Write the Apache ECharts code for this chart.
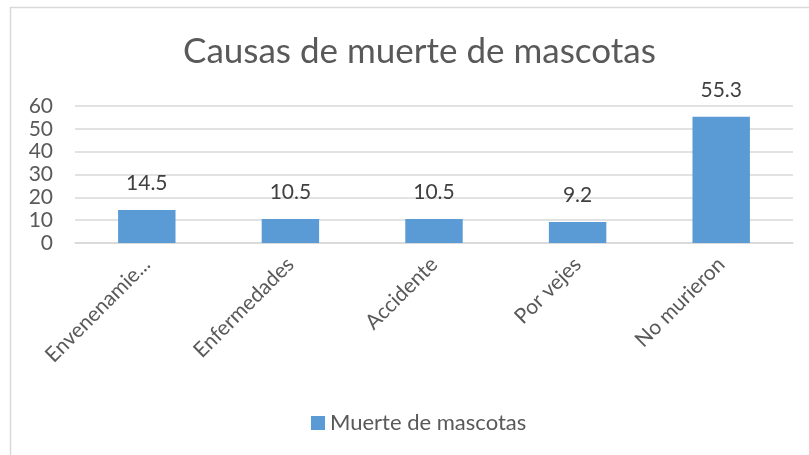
<!DOCTYPE html>
<html>
<head>
<meta charset="utf-8">
<script src="https://cdn.jsdelivr.net/npm/echarts@6/dist/echarts.min.js"></script>
<style>
  html, body { margin: 0; padding: 0; background: #fff; }
  #chart { width: 809px; height: 455px; }
</style>
</head>
<body>
<div id="chart"></div>
<script>
// Causas de muerte de mascotas (porcentaje)
const categories = ['Envenenamiento', 'Enfermedades', 'Accidente', 'Por vejes', 'No murieron'];
const values = [14.5, 10.5, 10.5, 9.2, 55.3];
const seriesName = 'Muerte de mascotas';
const yTicks = { min: 0, max: 60, interval: 10 };

const FONT = 'Lato';
const chart = echarts.init(document.getElementById('chart'), null, { renderer: 'canvas' });

chart.setOption({
  backgroundColor: '#ffffff',
  animation: false,
  textStyle: { fontFamily: FONT },
  title: {
    text: 'Causas de muerte de mascotas',
    left: 178,
    top: 29,
    textStyle: { fontFamily: FONT, fontSize: 35, fontWeight: 'normal', color: '#595959' }
  },
  graphic: [{
    type: 'rect',
    shape: { x: 10.5, y: 7.5, width: 820, height: 460 },
    style: { fill: 'none', stroke: '#D9D9D9', lineWidth: 1.5 },
    silent: true
  }],
  grid: { left: 75, right: 16, top: 106, bottom: 212, containLabel: false },
  legend: {
    data: [seriesName],
    left: 306,
    top: 407,
    icon: 'rect',
    itemWidth: 14,
    itemHeight: 14,
    itemGap: 8,
    textStyle: { fontFamily: FONT, fontSize: 22, color: '#595959' }
  },
  xAxis: {
    type: 'category',
    data: categories,
    axisLine: { lineStyle: { color: '#D9D9D9', width: 1.5 } },
    axisTick: { show: false },
    axisLabel: {
      rotate: 45,
      margin: 18,
      interval: 0,
      fontFamily: FONT,
      fontSize: 21,
      color: '#595959',
      width: 140,
      overflow: 'truncate',
      ellipsis: '...'
    }
  },
  yAxis: {
    type: 'value',
    min: yTicks.min,
    max: yTicks.max,
    interval: yTicks.interval,
    axisLine: { show: false },
    axisTick: { show: false },
    axisLabel: { margin: 22, fontFamily: FONT, fontSize: 21, color: '#595959' },
    splitLine: { lineStyle: { color: '#D9D9D9', width: 1.5 } }
  },
  series: [{
    name: seriesName,
    type: 'bar',
    data: values,
    barWidth: '40%',
    itemStyle: { color: '#5B9BD5' },
    label: {
      show: true,
      position: 'top',
      distance: 16,
      fontFamily: FONT,
      fontSize: 21,
      color: '#404040'
    }
  }]
});
</script>
</body>
</html>
